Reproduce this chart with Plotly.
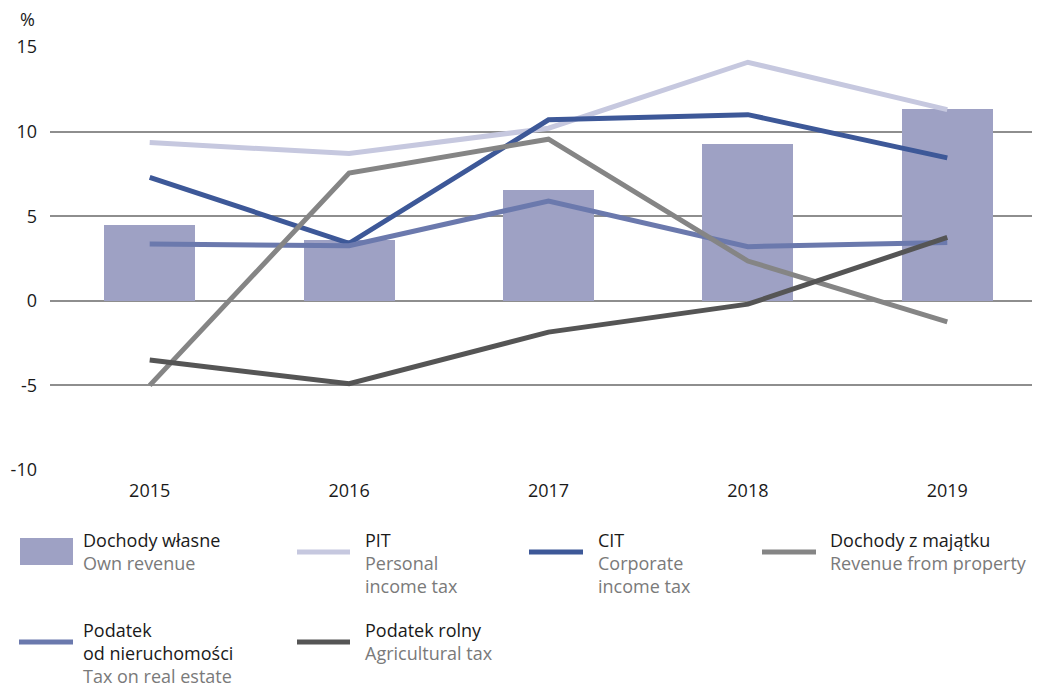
import plotly.graph_objects as go

years = ['2015', '2016', '2017', '2018', '2019']

own_revenue = [4.5, 3.6, 6.55, 9.25, 11.35]
pit = [9.35, 8.7, 10.2, 14.1, 11.3]
cit = [7.3, 3.4, 10.7, 11.0, 8.45]
property_rev = [-5.0, 7.55, 9.55, 2.35, -1.25]
real_estate = [3.35, 3.25, 5.9, 3.2, 3.45]
agri = [-3.5, -4.9, -1.85, -0.2, 3.75]

y_ticks = [-10, -5, 0, 5, 10, 15]
y_ticktext = ['-10', '-5', '0', '5', '10', '15']

legend_items = [
    (['Dochody własne'], ['Own revenue']),
    (['PIT'], ['Personal', 'income tax']),
    (['CIT'], ['Corporate', 'income tax']),
    (['Dochody z majątku'], ['Revenue from property']),
    (['Podatek', 'od nieruchomości'], ['Tax on real estate']),
    (['Podatek rolny'], ['Agricultural tax']),
]

C_BAR = '#9ea1c4'
C_PIT = '#c6c8df'
C_CIT = '#3d5898'
C_PROP = '#858585'
C_RE = '#6b79ad'
C_AGRI = '#555555'
FONT = 'Open Sans'

OFF = 8  # page body margin
W, H = 1040 - OFF, 689 - OFF
# plot area in page pixels
L, R, T, B = 50, 1040, 47, 470


def px(x):
    return (x - L) / (R - L)


def py(y):
    return (B - y) / (B - T)


fig = go.Figure()

fig.add_trace(go.Bar(x=years, y=own_revenue, marker=dict(color=C_BAR, line=dict(width=0)),
                     width=0.456))

line_series = [
    (pit, C_PIT),
    (cit, C_CIT),
    (real_estate, C_RE),
    (property_rev, C_PROP),
    (agri, C_AGRI),
]
for vals, col in line_series:
    fig.add_trace(go.Scatter(x=years, y=vals, mode='lines',
                             line=dict(color=col, width=5)))

# custom legend: (symbol x0, symbol x1, text x, first line centre y, kind, colour)
legend_pos = [
    (20, 73, 83, 540, 'box', C_BAR),
    (295, 352, 365, 540, 'line', C_PIT),
    (527, 585, 598, 540, 'line', C_CIT),
    (760, 818, 830, 540, 'line', C_PROP),
    (17, 75, 83, 630, 'line', C_RE),
    (295, 352, 365, 630, 'line', C_AGRI),
]
LINE_H = 23
shapes = []
annotations = []
for (pl, en), (x0, x1, tx, yc, kind, col) in zip(legend_items, legend_pos):
    if kind == 'box':
        shapes.append(dict(type='rect', xref='paper', yref='paper',
                           x0=px(x0), x1=px(x1), y0=py(yc - 2), y1=py(yc + 25),
                           fillcolor=col, line=dict(width=0)))
    else:
        shapes.append(dict(type='line', xref='paper', yref='paper',
                           x0=px(x0 + 2), x1=px(x1 - 2), y0=py(yc + 12), y1=py(yc + 12),
                           line=dict(color=col, width=5)))
    lines = [(t, '#1a1a1a') for t in pl] + [(t, '#7a7a7a') for t in en]
    for i, (txt, tcol) in enumerate(lines):
        annotations.append(dict(
            xref='paper', yref='paper', x=px(tx - 1), y=py(yc + i * LINE_H),
            xanchor='left', yanchor='middle', align='left', showarrow=False,
            borderpad=0, text=txt, font=dict(family=FONT, size=18, color=tcol),
        ))

annotations.append(dict(xref='paper', yref='paper', x=px(18), y=py(19), xanchor='left',
                        yanchor='middle', showarrow=False, text='%',
                        font=dict(family=FONT, size=18, color='#1a1a1a')))

fig.update_layout(
    width=W, height=H,
    margin=dict(l=L - OFF, r=W - (R - OFF), t=T - OFF, b=H - (B - OFF)),
    plot_bgcolor='white', paper_bgcolor='white',
    showlegend=False,
    bargap=0,
    font=dict(family=FONT, size=18, color='#1a1a1a'),
    xaxis=dict(range=[-0.5, 4.465], showgrid=False, showline=False, ticks='',
               ticklabelstandoff=8, tickfont=dict(size=18), fixedrange=True),
    yaxis=dict(range=[-10, 15], tickvals=y_ticks, ticktext=y_ticktext, showgrid=True,
               gridcolor='#8e8e8e', gridwidth=1.5, zeroline=True, zerolinecolor='#8e8e8e',
               zerolinewidth=1.5, ticks='', ticklabelstandoff=12, tickfont=dict(size=18),
               fixedrange=True),
    shapes=shapes,
    annotations=annotations,
)

fig.write_html('out.html')
